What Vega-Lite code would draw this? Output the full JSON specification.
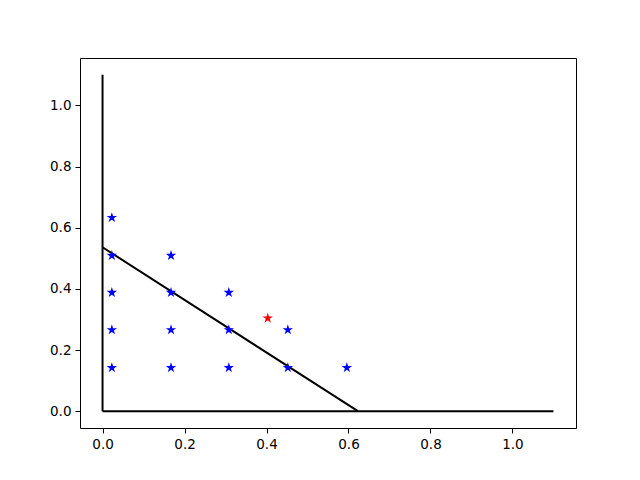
{
  "$schema": "https://vega.github.io/schema/vega-lite/v6.json",
  "width": 496,
  "height": 370,
  "autosize": "none",
  "padding": {"left": 80, "top": 58, "right": 64, "bottom": 52},
  "config": {
    "view": {"stroke": "black", "strokeWidth": 1},
    "axis": {
      "grid": false,
      "domain": false,
      "tickColor": "black",
      "tickSize": 5,
      "tickWidth": 1,
      "labelFont": "DejaVu Sans",
      "labelFontSize": 13.5,
      "labelColor": "black",
      "labelPadding": 4
    }
  },
  "layer": [
    {
      "data": {"values": [
        {"px": 0, "py": 0, "px2": 0, "py2": 1.1},
        {"px": 0, "py": 0, "px2": 1.1, "py2": 0},
        {"px": 0, "py": 0.536, "px2": 0.623, "py2": 0}
      ]},
      "mark": {"type": "rule", "color": "black", "strokeWidth": 2},
      "encoding": {
        "x": {"field": "px", "type": "quantitative", "title": null, "scale": {"domain": [-0.055, 1.155], "nice": false, "zero": false},
              "axis": {"values": [0, 0.2, 0.4, 0.6, 0.8, 1.0], "format": ".1f"}},
        "y": {"field": "py", "type": "quantitative", "title": null, "scale": {"domain": [-0.055, 1.155], "nice": false, "zero": false},
              "axis": {"values": [0, 0.2, 0.4, 0.6, 0.8, 1.0], "format": ".1f"}},
        "x2": {"field": "px2"},
        "y2": {"field": "py2"}
      }
    },
    {
      "data": {"values": [
        {"px": 0.0227, "py": 0.142, "kind": "grid"},
        {"px": 0.0227, "py": 0.266, "kind": "grid"},
        {"px": 0.0227, "py": 0.388, "kind": "grid"},
        {"px": 0.0227, "py": 0.509, "kind": "grid"},
        {"px": 0.0227, "py": 0.633, "kind": "grid"},
        {"px": 0.167, "py": 0.142, "kind": "grid"},
        {"px": 0.167, "py": 0.266, "kind": "grid"},
        {"px": 0.167, "py": 0.388, "kind": "grid"},
        {"px": 0.167, "py": 0.509, "kind": "grid"},
        {"px": 0.308, "py": 0.142, "kind": "grid"},
        {"px": 0.308, "py": 0.266, "kind": "grid"},
        {"px": 0.308, "py": 0.388, "kind": "grid"},
        {"px": 0.452, "py": 0.142, "kind": "grid"},
        {"px": 0.452, "py": 0.266, "kind": "grid"},
        {"px": 0.596, "py": 0.142, "kind": "grid"},
        {"px": 0.403, "py": 0.304, "kind": "query"}
      ]},
      "mark": {"type": "point", "shape": "M0,-1L0.2245,-0.309L0.951,-0.309L0.363,0.118L0.588,0.809L0,0.382L-0.588,0.809L-0.363,0.118L-0.951,-0.309L-0.2245,-0.309Z", "filled": true, "size": 120, "opacity": 1},
      "encoding": {
        "x": {"field": "px", "type": "quantitative"},
        "y": {"field": "py", "type": "quantitative"},
        "color": {"field": "kind", "type": "nominal", "scale": {"domain": ["grid", "query"], "range": ["blue", "red"]}, "legend": null}
      }
    }
  ]
}
